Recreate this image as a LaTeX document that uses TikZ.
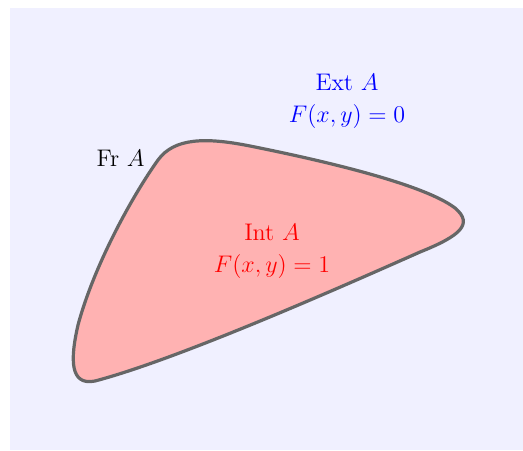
\documentclass[tikz,border=0pt]{standalone}
\usepackage{amsmath,amssymb}
\usepackage{tikz}
\usetikzlibrary{positioning,calc}
\usepackage{xcolor}

\begin{document}
\begin{tikzpicture}[
    x=0.5pt, y=-0.5pt,
    region/.style={draw=black!60, line width=1.6pt, fill=red!30},
    lbl/.style={align=center, font=\large, inner sep=1pt}
  ]
  \useasboundingbox (0,0) rectangle (523,450);
  \fill[blue!6] (10,8) rectangle (523,450);

  % the set A
  \draw[region] (95,381)
      .. controls (70,386) and (70,360) .. (78,325)
      .. controls (95,262) and (135,192) .. (158,160)
      .. controls (174,138) and (205,137) .. (250,146)
      .. controls (330,162) and (425,185) .. (455,208)
      .. controls (474,224) and (460,236) .. (420,252)
      .. controls (330,292) and (175,360) .. (95,381) -- cycle;

  \node (ext) [lbl, text=blue] at (347,101) {Ext $A$\\[2pt] $F(x,y)=0$};
  \node (int) [lbl, text=red]  at (272,251) {Int $A$\\[2pt] $F(x,y)=1$};
  \node (fr)  [lbl, anchor=east] at (147,158) {Fr $A$};
\end{tikzpicture}
\end{document}
